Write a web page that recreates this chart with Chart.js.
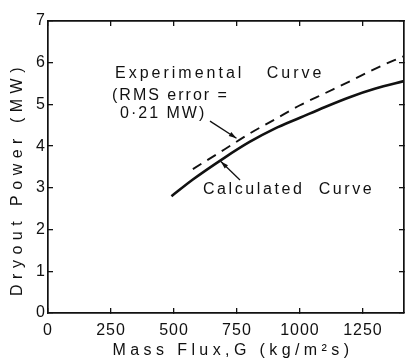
<!DOCTYPE html>
<html>
<head>
<meta charset="utf-8">
<script src="https://cdn.jsdelivr.net/npm/chart.js@4.4.0/dist/chart.umd.min.js"></script>
<style>
html,body{margin:0;padding:0;background:#fff;}
</style>
</head>
<body>
<canvas id="c" width="407" height="361"></canvas>
<script>
// Data
const calcG   = [490, 575, 700, 800, 900, 1000, 1100, 1200, 1300, 1413];
const calcP   = [2.80, 3.20, 3.72, 4.10, 4.42, 4.68, 4.94, 5.18, 5.38, 5.56];
const expG    = [575, 700, 800, 900, 1000, 1100, 1200, 1300, 1413];
const expP    = [3.45, 3.92, 4.30, 4.64, 4.98, 5.27, 5.56, 5.86, 6.16];
const xTicks  = [0, 250, 500, 750, 1000, 1250];
const yTicks  = [0, 1, 2, 3, 4, 5, 6, 7];
const xTitle  = 'Mass Flux,G (kg/m²s)';
const yTitle  = 'Dryout Power (MW)';
const noteTexts = ['Experimental   Curve', '(RMS error =', '0·21 MW)', 'Calculated  Curve'];

// Annotation placement (in axis units) and letter spacing
const noteLayout = [
  {g: 266, p: 5.75, sp: 3},
  {g: 254, p: 5.20, sp: 2},
  {g: 286, p: 4.79, sp: 2},
  {g: 615, p: 2.95, sp: 2.6}
];
const arrowLayout = [
  {g1: 643, p1: 4.60, g2: 748, p2: 4.19},
  {g1: 762, p1: 3.19, g2: 686, p2: 3.63}
];

const FONT = '"Liberation Sans", Arial, sans-serif';
const INK = '#111';
const toPts = (xs, ys) => xs.map((x, i) => ({x: x, y: ys[i]}));

const annotPlugin = {
  id: 'annot',
  beforeDraw(chart) {
    chart.ctx.letterSpacing = '1px';
  },
  afterDraw(chart) {
    const ctx = chart.ctx;
    const a = chart.chartArea;
    const xs = chart.scales.x, ys = chart.scales.y;
    ctx.save();
    ctx.fillStyle = INK;
    ctx.strokeStyle = INK;
    ctx.setLineDash([]);
    ctx.font = '16px ' + FONT;
    ctx.textBaseline = 'middle';
    ctx.textAlign = 'left';
    noteTexts.forEach((t, i) => {
      const n = noteLayout[i];
      ctx.letterSpacing = n.sp + 'px';
      ctx.fillText(t, xs.getPixelForValue(n.g), ys.getPixelForValue(n.p));
    });
    ctx.lineWidth = 1.3;
    arrowLayout.forEach(r => {
      const x1 = xs.getPixelForValue(r.g1), y1 = ys.getPixelForValue(r.p1);
      const x2 = xs.getPixelForValue(r.g2), y2 = ys.getPixelForValue(r.p2);
      ctx.beginPath(); ctx.moveTo(x1, y1); ctx.lineTo(x2, y2); ctx.stroke();
      const ang = Math.atan2(y2 - y1, x2 - x1);
      const hl = 8, w = 0.3;
      ctx.beginPath();
      ctx.moveTo(x2, y2);
      ctx.lineTo(x2 - hl * Math.cos(ang - w), y2 - hl * Math.sin(ang - w));
      ctx.lineTo(x2 - hl * Math.cos(ang + w), y2 - hl * Math.sin(ang + w));
      ctx.closePath(); ctx.fill();
    });
    ctx.textAlign = 'center';
    ctx.textBaseline = 'alphabetic';
    ctx.letterSpacing = '4.4px';
    ctx.fillText(xTitle, (a.left + a.right) / 2 + 7, 355);
    ctx.letterSpacing = '5.5px';
    ctx.translate(22, (a.top + a.bottom) / 2 + 12);
    ctx.rotate(-Math.PI / 2);
    ctx.fillText(yTitle, 0, 0);
    ctx.restore();
  }
};

const gridOpts = {display: true, drawOnChartArea: false, drawTicks: true, tickLength: -5, color: INK, lineWidth: 1.3};
const borderOpts = {display: true, color: INK, width: 1.7};
const setX = s => { s.ticks = xTicks.map(v => ({value: v})); };
const setY = s => { s.ticks = yTicks.map(v => ({value: v})); };

new Chart(document.getElementById('c'), {
  type: 'line',
  data: {
    datasets: [
      {label: 'Calculated Curve', data: toPts(calcG, calcP), borderColor: INK, borderWidth: 2.6,
       pointRadius: 0, fill: false, cubicInterpolationMode: 'monotone'},
      {label: 'Experimental Curve', data: toPts(expG, expP), borderColor: INK, borderWidth: 1.9,
       borderDash: [10, 7], pointRadius: 0, fill: false, cubicInterpolationMode: 'monotone'}
    ]
  },
  plugins: [annotPlugin],
  options: {
    responsive: false,
    animation: false,
    devicePixelRatio: 1,
    layout: {padding: {left: 0, right: 3, top: 21, bottom: 0}},
    plugins: {legend: {display: false}, tooltip: {enabled: false}},
    scales: {
      x: {
        type: 'linear', position: 'bottom', min: 0, max: 1413,
        afterBuildTicks: setX,
        afterFit: s => { s.height = 48; },
        grid: gridOpts, border: borderOpts,
        ticks: {color: INK, font: {family: FONT, size: 16}, padding: 13, maxRotation: 0, autoSkip: false,
                callback: v => String(v)}
      },
      x2: {
        type: 'linear', position: 'top', min: 0, max: 1413,
        afterBuildTicks: setX,
        afterFit: s => { s.height = 0; },
        grid: gridOpts, border: borderOpts,
        ticks: {display: false}
      },
      y: {
        type: 'linear', position: 'left', min: 0, max: 7,
        afterBuildTicks: setY,
        afterFit: s => { s.width = 48; },
        grid: gridOpts, border: borderOpts,
        ticks: {color: INK, font: {family: FONT, size: 16}, padding: 7, callback: v => String(v)}
      },
      y2: {
        type: 'linear', position: 'right', min: 0, max: 7,
        afterBuildTicks: setY,
        afterFit: s => { s.width = 0; },
        grid: gridOpts, border: borderOpts,
        ticks: {display: false}
      }
    }
  }
});
</script>
</body>
</html>
